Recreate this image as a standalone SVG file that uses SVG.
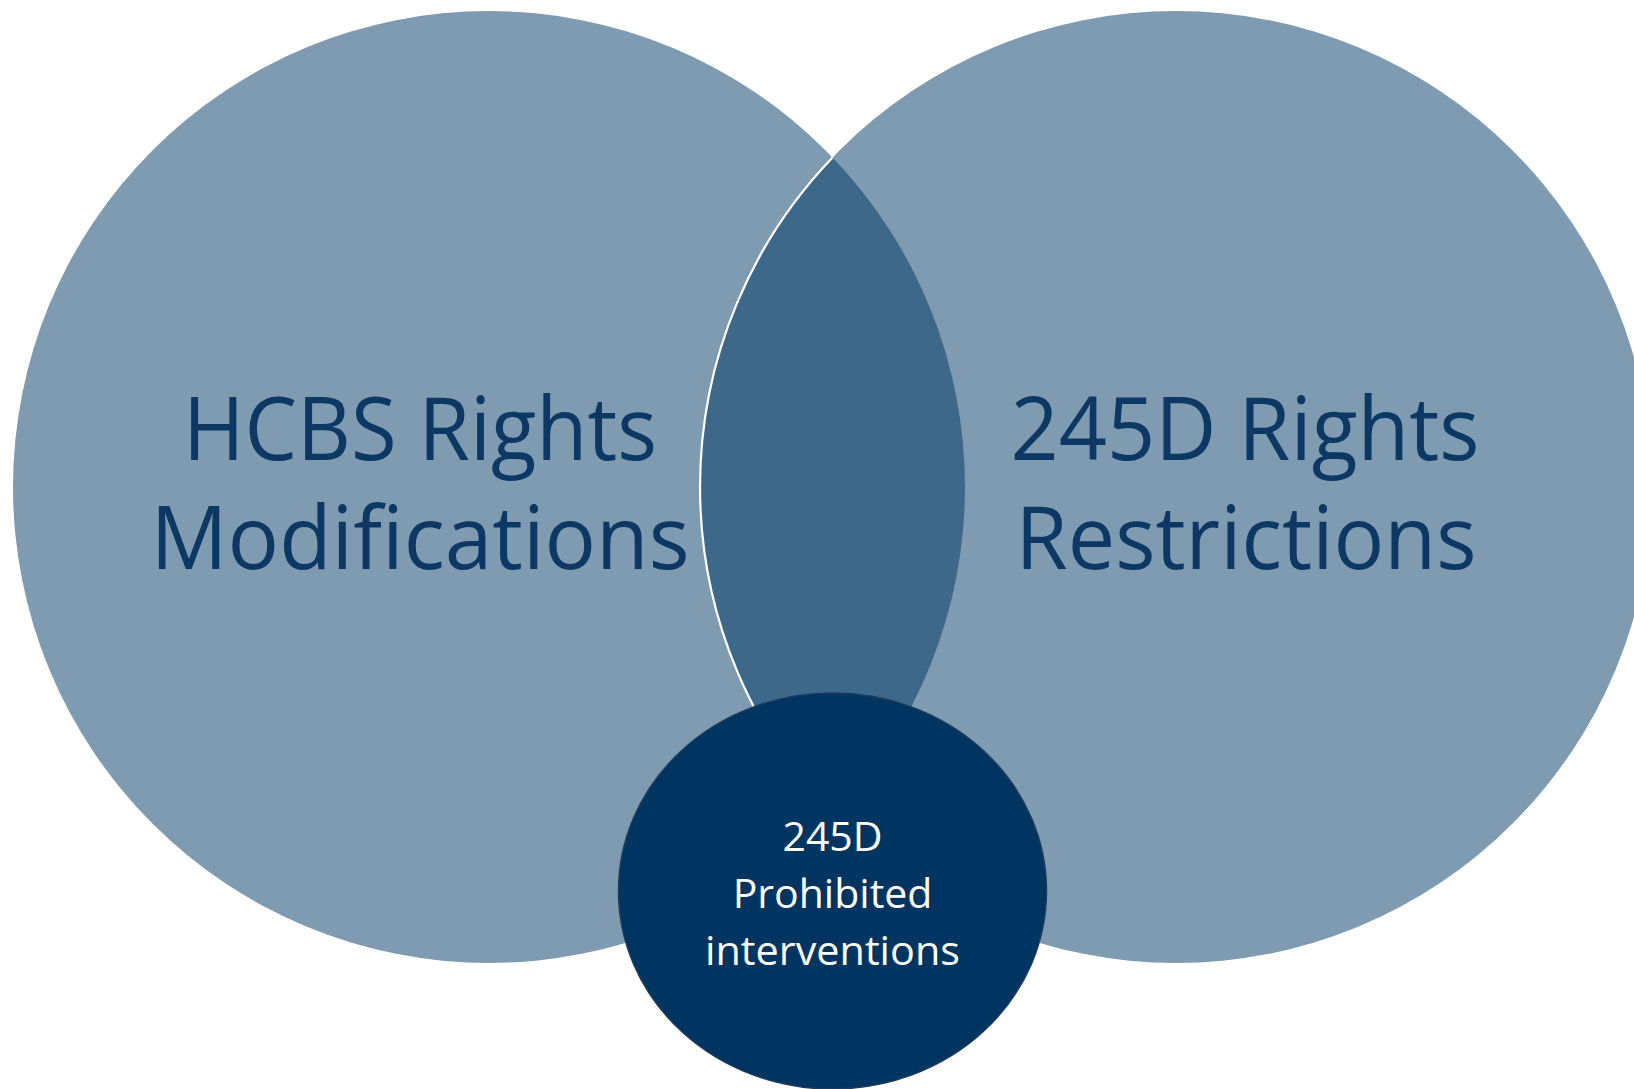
<svg xmlns="http://www.w3.org/2000/svg" width="1634" height="1089" viewBox="0 0 1634 1089">
  <style>
    .set { fill: #7f9bb2; }
    .overlap { fill: #3e6889; }
    .edge { fill: none; stroke: #ffffff; stroke-width: 2.2; }
    .core { fill: #003561; stroke: #1d3b5c; stroke-width: 1.5; }
    .big { font-family: "Open Sans", "Noto Sans", sans-serif; font-size: 87px; font-weight: 500; fill: #0c3863; text-anchor: middle; }
    .small { font-family: "Open Sans", "Noto Sans", sans-serif; font-size: 41px; font-weight: 500; fill: #ffffff; text-anchor: middle; }
  </style>
  <rect width="1634" height="1089" fill="#ffffff"/>

  <!-- left set -->
  <g id="hcbs">
    <circle class="set" cx="489" cy="487" r="476"/>
  </g>

  <!-- right set -->
  <g id="rights245d">
    <circle class="set" cx="1176" cy="487" r="476"/>
  </g>

  <!-- overlap of the two sets -->
  <g id="overlap">
    <path class="overlap" d="M832.5,157.5 A476,476 0 0 1 832.5,816.5 A476,476 0 0 1 832.5,157.5 Z"/>
    <path class="edge" d="M832.5,816.5 A476,476 0 0 1 832.5,157.5"/>
  </g>

  <!-- labels of the two sets -->
  <g id="hcbs-label">
    <text class="big" x="420" y="460" textLength="474" lengthAdjust="spacingAndGlyphs">HCBS Rights</text>
    <text class="big" x="420" y="569" textLength="539" lengthAdjust="spacingAndGlyphs">Modifications</text>
  </g>
  <g id="rights245d-label">
    <text class="big" x="1245" y="460" textLength="469" lengthAdjust="spacingAndGlyphs">245D Rights</text>
    <text class="big" x="1246" y="569" textLength="461" lengthAdjust="spacingAndGlyphs">Restrictions</text>
  </g>

  <!-- prohibited interventions -->
  <g id="prohibited">
    <ellipse class="core" cx="832.5" cy="891" rx="214" ry="198"/>
    <text class="small" x="832.5" y="851">245D</text>
    <text class="small" x="832.5" y="908">Prohibited</text>
    <text class="small" x="832.5" y="965" textLength="255" lengthAdjust="spacingAndGlyphs">interventions</text>
  </g>
</svg>
